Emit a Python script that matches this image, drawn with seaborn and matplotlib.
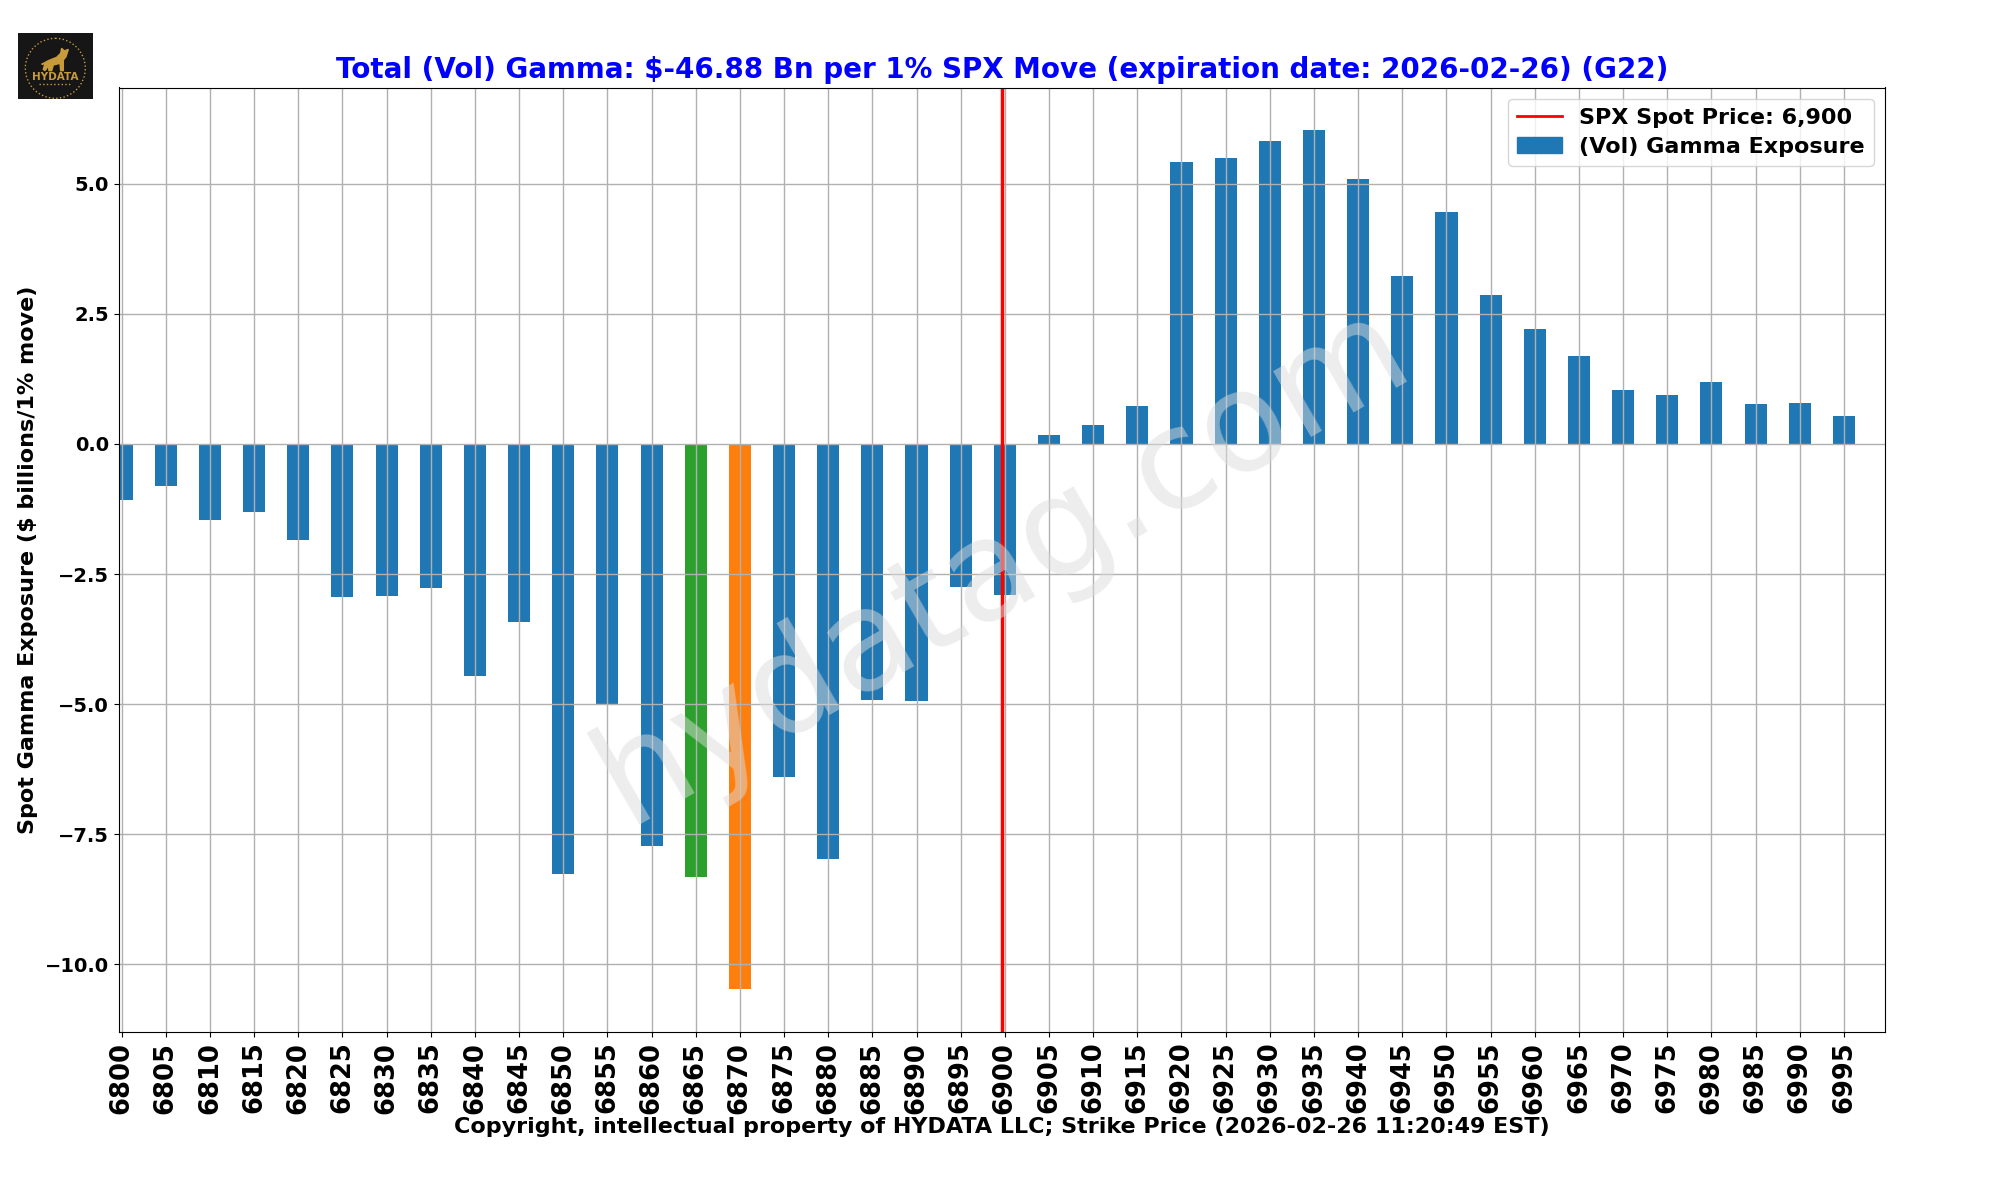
import matplotlib
matplotlib.use("Agg")
import matplotlib.pyplot as plt
from matplotlib.lines import Line2D
from matplotlib.patches import Ellipse, Patch, Polygon, Rectangle
import pandas as pd
import seaborn as sns

strikes = list(range(6800, 7000, 5))
gamma = [-1.08, -0.80, -1.47, -1.30, -1.84, -2.94, -2.92, -2.77, -4.46, -3.43,
         -8.26, -5.00, -7.72, -8.33, -10.47, -6.40, -7.98, -4.92, -4.94, -2.74,
         -2.90, 0.17, 0.36, 0.73, 5.41, 5.49, 5.83, 6.03, 5.10, 3.23,
         4.45, 2.86, 2.20, 1.69, 1.03, 0.95, 1.20, 0.76, 0.78, 0.54]
spot = 6899.7
green_strike = 6865
orange_strike = 6870
yticks = [-10.0, -7.5, -5.0, -2.5, 0.0, 2.5, 5.0]

BLUE = "#1f77b4"
ORANGE = "#ff7f0e"
GREEN = "#2ca02c"
GOLD = "#c79a3c"


def bar_group(strike):
    if strike == green_strike:
        return "green"
    if strike == orange_strike:
        return "orange"
    return "blue"


def draw_logo(fig):
    # rough stand-in for the bitmap logo in the corner
    logo = fig.add_axes([18 / 2000, 1 - 99 / 1200, 75 / 2000, 66 / 1200], label="logo")
    logo.set_xlim(0, 225)
    logo.set_ylim(198, 0)
    logo.axis("off")
    logo.add_patch(Rectangle((0, 0), 225, 198, color="#161616"))
    logo.add_patch(Ellipse((112, 106), 180, 180, fill=False, ec=GOLD, lw=1, ls=":"))
    wolf = [(151, 49), (144, 71), (136, 81), (136, 113), (128, 113), (126, 91), (106, 96),
            (101, 113), (93, 113), (91, 99), (81, 113), (76, 109), (81, 91), (71, 94),
            (91, 83), (116, 73), (128, 61), (131, 46), (139, 54)]
    logo.add_patch(Polygon(wolf, color=GOLD))
    logo.text(112, 133, "HYDATA", color=GOLD, fontsize=7.5, fontweight="bold", ha="center", va="center")
    logo.plot([62, 162], [153, 153], color=GOLD, lw=1, ls=":")


df = pd.DataFrame({"strike": strikes, "gamma": gamma})
df["group"] = df["strike"].map(bar_group)

fig = plt.figure(figsize=(20, 12), dpi=100)
ax = fig.add_axes([118.5 / 2000, 1 - 1032 / 1200, (1885 - 118.5) / 2000, (1032 - 87.5) / 1200])

sns.barplot(data=df, x="strike", y="gamma", hue="group", dodge=False, width=0.5,
            palette={"blue": BLUE, "orange": ORANGE, "green": GREEN},
            saturation=1, legend=False, ax=ax)

# bars sit on category positions, so turn the spot level into one
ax.axvline((spot - strikes[0]) / 5, color="red", lw=2.5)
ax.grid(True, color="#b0b0b0", lw=1.0)
ax.set_xlim(-0.07, 39.93)
ax.set_ylim(-11.3, 6.85)
ax.set_yticks(yticks)
ax.set_yticklabels(["\u221210.0", "\u22127.5", "\u22125.0", "\u22122.5", "0.0", "2.5", "5.0"],
                   fontsize=14, fontweight="bold")
ax.tick_params(axis="x", labelsize=18.5, labelrotation=90)
for label in ax.get_xticklabels():
    label.set_fontweight("bold")

ax.set_title("Total (Vol) Gamma: $-46.88 Bn per 1% SPX Move (expiration date: 2026-02-26) (G22)",
             color="blue", fontsize=20, fontweight="bold", pad=7)
ax.set_xlabel("Copyright, intellectual property of HYDATA LLC; Strike Price (2026-02-26 11:20:49 EST)",
              fontsize=16, fontweight="bold", va="center")
ax.xaxis.set_label_coords(0.5, -0.1005)
ax.set_ylabel("Spot Gamma Exposure ($ billions/1% move)", fontsize=16, fontweight="bold", va="center")
ax.yaxis.set_label_coords(-0.0512, 0.5)

handles = [Line2D([], [], color="red", lw=2), Patch(color=BLUE)]
ax.legend(handles, ["SPX Spot Price: 6,900", "(Vol) Gamma Exposure"], loc="upper right",
          labelspacing=0.42, prop={"size": 16, "weight": "bold"})

fig.text(0.501, 0.530, "hydatag.com", fontsize=100, color="#dbdbdb", alpha=0.5,
         rotation=30, ha="center", va="center")

draw_logo(fig)
fig.savefig("out.png", dpi=100)
